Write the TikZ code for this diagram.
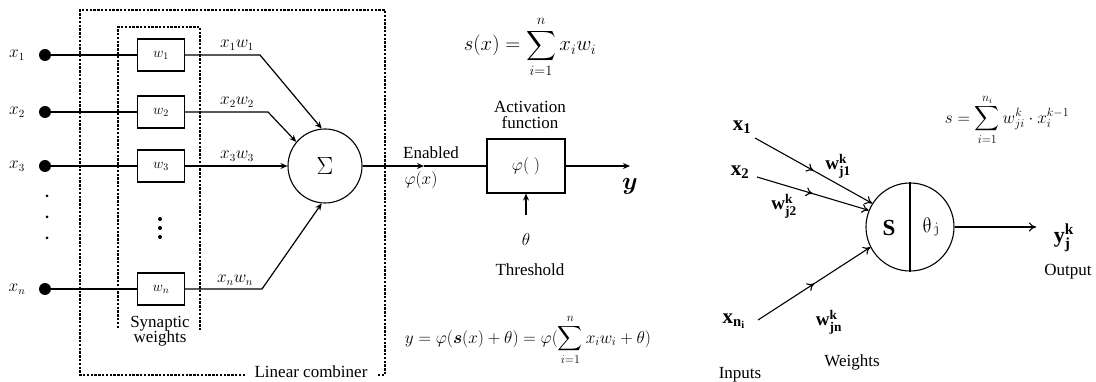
\documentclass[tikz,border=0pt]{standalone}
\usepackage{amsmath}
\usepackage{bm}
\usepackage{fontspec}
\setmainfont{Liberation Serif}
\usetikzlibrary{arrows.meta,decorations.markings}
\begin{document}
\begin{tikzpicture}[x=1pt,y=-1pt,
  dbox/.style={line width=2.6pt, dash pattern=on 2.4pt off 1.4pt},
  wbox/.style={draw, line width=1.1pt, minimum width=47pt, minimum height=32pt, inner sep=0pt, font=\fontsize{14}{16}\selectfont},
  ln/.style={line width=1.2pt},
  arr/.style={ln, -{Stealth[length=7pt,width=6pt]}},
  dotn/.style={circle, fill, inner sep=0pt, minimum size=12pt},
  lbl/.style={font=\fontsize{17}{19}\selectfont, inner sep=1pt},
  mlbl/.style={font=\fontsize{16}{18}\selectfont, inner sep=1pt},
  rarr/.style={line width=1.1pt, -{To[length=7pt,width=9pt]},
    postaction={decorate},
    decoration={markings, mark=at position 0.5 with {\arrow{To[length=7pt,width=9pt]}}}},
  rlbl/.style={font=\fontsize{21}{23}\selectfont, inner sep=1pt},
  wlbl/.style={font=\fontsize{19}{21}\selectfont, inner sep=1pt}
]
\useasboundingbox (0,0) rectangle (1096,382);

% ---------- left part ----------
\draw[dbox] (245,375) -- (80,375) -- (80,10) -- (385,10) -- (385,375) -- (378,375);
\node[lbl] (lc) at (311,372) {Linear combiner};
\draw[dbox] (118,328) -- (118,27) -- (200,27) -- (200,331);
\node[lbl, align=center, inner sep=0pt] (syn) at (160,331) {Synaptic\\[-4pt]weights};

\foreach \i/\y/\t in {1/55/x_1, 2/112/x_2, 3/166/x_3, n/289/x_n}{
  \node[dotn] (d\i) at (45,\y) {};
  \node[mlbl] (xl\i) at (17,\y) {$\t$};
  \node[wbox] (w\i) at (161,\y) {$w_{\i}$};
  \draw[ln] (d\i) -- (w\i);
}
\foreach \yy in {196,217,238} \fill (47,\yy) circle (1.5pt);
\foreach \yy in {219,228,237} \fill (160,\yy) circle (2pt);

\node[circle, draw, line width=1.1pt, minimum size=74pt, inner sep=0pt, font=\fontsize{24}{26}\selectfont] (sum) at (325,166) {$\Sigma$};
\coordinate (b1) at (260,55);
\coordinate (b2) at (268,112);
\coordinate (bn) at (262,289);
\draw[arr] (w1.east) -- (b1) -- (sum.95);
\draw[arr] (w2.east) -- (b2) -- (sum.140);
\draw[arr] (w3.east) -- (sum.west);
\draw[arr] (wn.east) -- (bn) -- (sum.265);
\node[mlbl] (p1) at (237,45) {$x_1w_1$};
\node[mlbl] (p2) at (237,102) {$x_2w_2$};
\node[mlbl] (p3) at (237,156) {$x_3w_3$};
\node[mlbl] (pn) at (235,280) {$x_nw_n$};

\node[draw, line width=1.1pt, minimum width=78pt, minimum height=54pt, inner sep=0pt, font=\fontsize{18}{20}\selectfont] (phi) at (526,166) {$\varphi(\;)$};
\coordinate (en) at (424,166);
\draw[arr] (sum.east) -- (en);
\draw[ln] (en) -- (phi.west);
\node[lbl] (enl) at (431,153) {Enabled};
\node[mlbl] (enp) at (421,180) {$\varphi(x)$};
\node[lbl, align=center] (act) at (530,115) {Activation\\[-3pt]function};
\coordinate (yout) at (630,166);
\draw[arr] (phi.east) -- (yout);
\node[font=\fontsize{24}{26}\selectfont] (ylab) at (630,186) {$\bm{y}$};
\node[font=\fontsize{18}{20}\selectfont] (th) at (526,240) {$\theta$};
\coordinate (thtop) at (526,215);
\draw[arr] (thtop) -- (phi.south);
\node[lbl] (thl) at (530,270) {Threshold};

\node[font=\fontsize{21}{23}\selectfont] (sx) at (530,47) {$\displaystyle s(x)=\sum_{i=1}^{n} x_i w_i$};
\node[font=\fontsize{16.5}{18}\selectfont] (yf) at (528,340) {$\displaystyle y=\varphi(\bm{s}(x)+\theta)=\varphi(\sum_{i=1}^{n}x_iw_i+\theta)$};

% ---------- right part ----------
\node[circle, draw, line width=1.1pt, minimum size=88pt, inner sep=0pt] (sn) at (910,227) {};
\draw[line width=1.1pt] (sn.north) -- (sn.south);
\node[font=\fontsize{23}{25}\selectfont\bfseries] (S) at (889,228) {S};
\node[font=\fontsize{20}{22}\selectfont, rotate=15] (thj) at (931,227) {$\theta_{j}$};

\node[rlbl] (rx1) at (742,127) {$\mathbf{x_1}$};
\node[rlbl] (rx2) at (740,172) {$\mathbf{x_2}$};
\node[rlbl] (rxn) at (734,321) {$\mathbf{x_{n_i}}$};
\coordinate (s1) at (755,138);
\coordinate (s2) at (757,177);
\coordinate (sn0) at (758,320);
\draw[rarr] (s1) -- (sn.148);
\draw[rarr] (s2) -- (sn.158);
\draw[rarr] (sn0) -- (sn.207);
\node[wlbl] (rw1) at (838,166) {$\mathbf{w^k_{j1}}$};
\node[wlbl] (rw2) at (784,206) {$\mathbf{w^k_{j2}}$};
\node[wlbl] (rwn) at (829,322) {$\mathbf{w^k_{jn}}$};

\coordinate (rout) at (1036,227);
\draw[line width=1.1pt, -{To[length=7pt,width=9pt]}] (sn.east) -- (rout);
\node[font=\fontsize{22}{24}\selectfont, inner sep=1pt] (ryk) at (1064,238) {$\mathbf{y^k_j}$};
\node[lbl] (outl) at (1068,272) {Output};
\node[lbl] (wl) at (852,362) {Weights};
\node[lbl] (inl) at (740,375) {Inputs};
\node[font=\fontsize{17}{19}\selectfont] (rf) at (1007,120) {$\displaystyle s=\sum_{i=1}^{n_i} w^k_{ji}\cdot x_i^{k-1}$};
\end{tikzpicture}
\end{document}
